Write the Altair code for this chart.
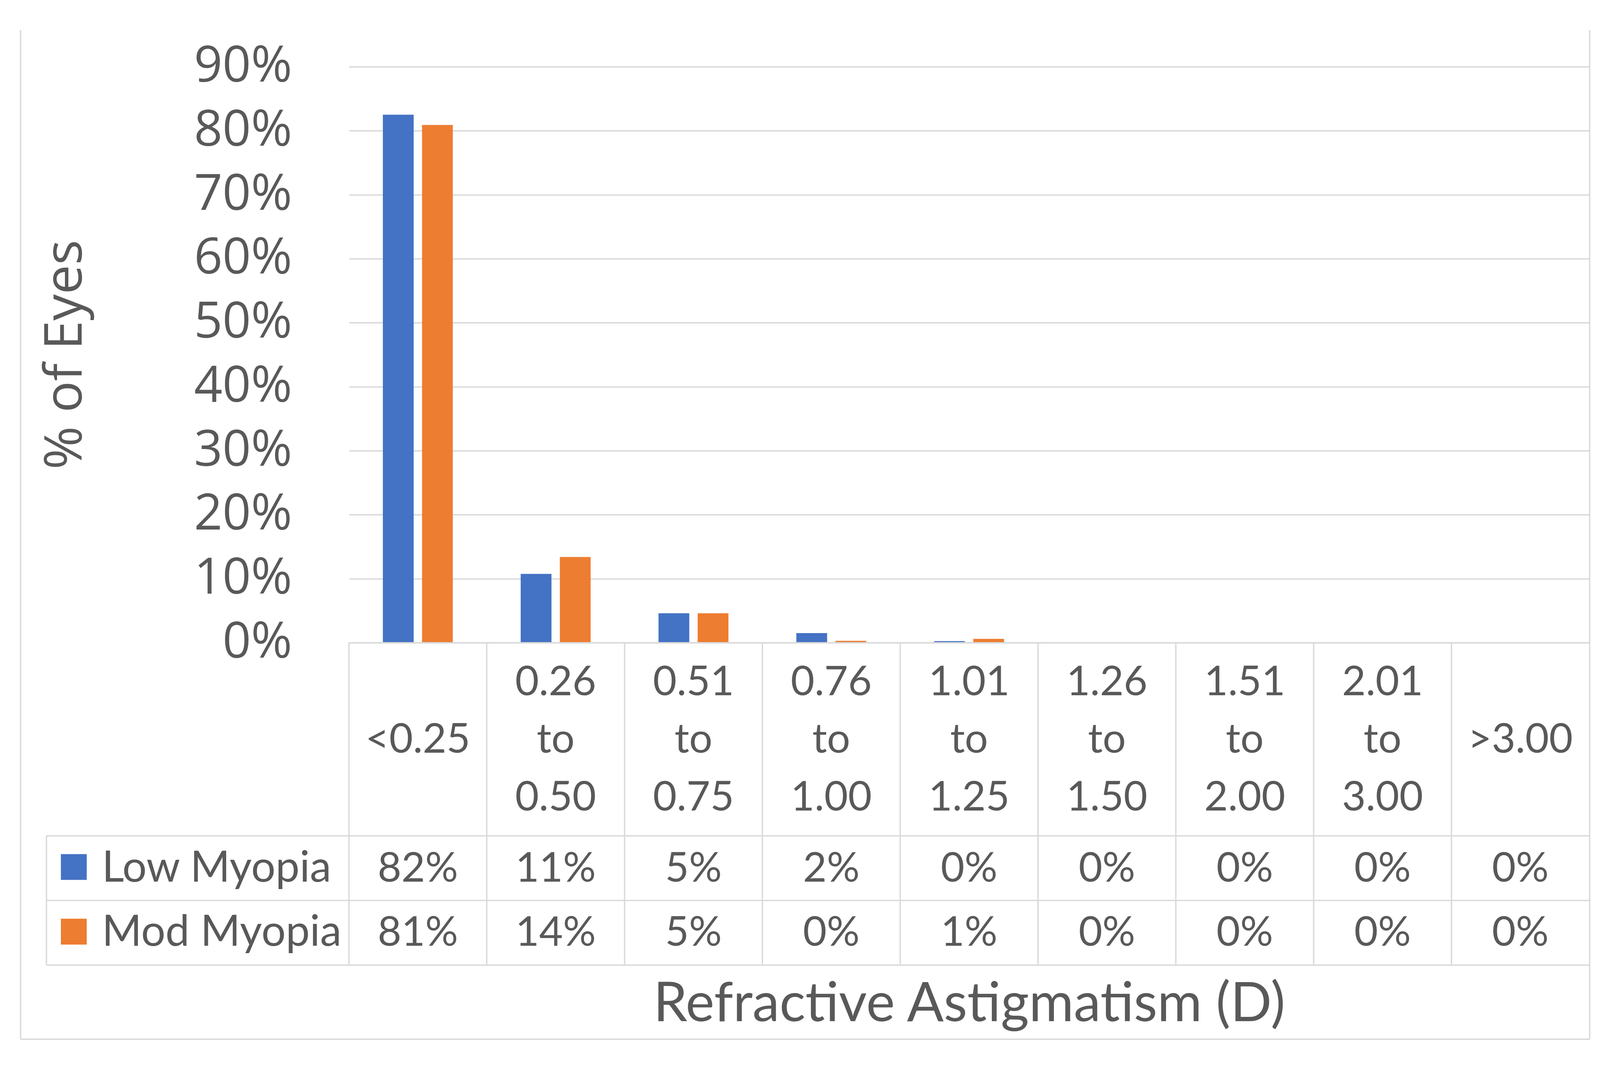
import altair as alt
import pandas as pd

# ---------------- data ----------------
categories = ["<0.25", "0.26 to 0.50", "0.51 to 0.75", "0.76 to 1.00", "1.01 to 1.25",
              "1.26 to 1.50", "1.51 to 2.00", "2.01 to 3.00", ">3.00"]
series_names = ["Low Myopia", "Mod Myopia"]
low_values = [82.5, 10.75, 4.6, 1.5, 0.25, 0, 0, 0, 0]
mod_values = [80.9, 13.4, 4.6, 0.3, 0.6, 0, 0, 0, 0]
low_labels = ["82%", "11%", "5%", "2%", "0%", "0%", "0%", "0%", "0%"]
mod_labels = ["81%", "14%", "5%", "0%", "1%", "0%", "0%", "0%", "0%"]
y_ticks = [0.0, 0.1, 0.2, 0.3, 0.4, 0.5, 0.6, 0.7, 0.8, 0.9]
colors = ["#4472C4", "#ED7D31"]

rows = []
for s, vals, labs in [(series_names[0], low_values, low_labels),
                      (series_names[1], mod_values, mod_labels)]:
    for c, v, l in zip(categories, vals, labs):
        rows.append({"category": c, "series": s, "value": v / 100.0, "label": l})
df = pd.DataFrame(rows)
cat_df = pd.DataFrame({"category": categories})
leg_df = pd.DataFrame({"series": series_names})
one = pd.DataFrame({"k": [0]})

# ---------------- style ----------------
W, H = 3264, 1515
GRID = "#d9d9d9"
TXT = "#595959"
LW = 3.5
TABLE_FONT = "Lato"
AXIS_FONT = "Open Sans"
TFS = 108

x_scale = alt.Scale(paddingInner=0, paddingOuter=0)
x_axis = alt.Axis(labels=False, ticks=False, domain=False, grid=False,
                  title="Refractive Astigmatism (D)", titleFont=TABLE_FONT,
                  titleFontSize=143, titleFontWeight="normal", titleColor=TXT,
                  titleY=995, titleBaseline="alphabetic")


def xenc(**kw):
    return alt.X("category:N", sort=categories, scale=x_scale, axis=x_axis, **kw)


color_scale = alt.Scale(domain=series_names, range=colors)

bars = alt.Chart(df).mark_bar().encode(
    x=xenc(),
    xOffset=alt.XOffset("series:N", sort=series_names,
                        scale=alt.Scale(paddingInner=0.2136, paddingOuter=0.867)),
    y=alt.Y("value:Q", scale=alt.Scale(domain=[0, 0.9], nice=False),
            axis=alt.Axis(format="%", values=y_ticks, title="% of Eyes",
                          labelFont=AXIS_FONT, labelFontSize=131, labelColor=TXT,
                          labelPadding=150, labelLimit=800, ticks=False, domain=False,
                          grid=True, gridColor=GRID, gridWidth=LW,
                          titleFont=AXIS_FONT, titleFontSize=138, titleColor=TXT,
                          titleFontWeight="normal", titleAngle=270,
                          titleX=-704, titleY=757, titleAlign="center",
                          titleBaseline="alphabetic")),
    color=alt.Color("series:N", scale=color_scale, legend=None),
)


def hrule(x1, x2, y):
    return alt.Chart(one).mark_rule(color=GRID, strokeWidth=LW).encode(
        x=alt.value(x1), x2=alt.value(x2), y=alt.value(y))


def vrule(x, y1, y2):
    return alt.Chart(one).mark_rule(color=GRID, strokeWidth=LW).encode(
        x=alt.value(x), y=alt.value(y1), y2=alt.value(y2))


# table column edges (from the band scale)
vlines = alt.Chart(cat_df).mark_rule(color=GRID, strokeWidth=LW).encode(
    x=xenc(bandPosition=0), y=alt.value(H), y2=alt.value(2363))

table_lines = [
    hrule(0, W, H),
    hrule(-796, W, 2023),
    hrule(-796, W, 2193),
    hrule(-796, W, 2363),
    vrule(-796, 2023, 2363),
    # chart-area border
    vrule(-864, -96, 2558),
    vrule(W + 1, -96, 2558),
    hrule(-864, W + 1, 2558),
]

cat_multi = alt.Chart(cat_df).transform_filter(
    "indexof(datum.category, ' ') >= 0").mark_text(
    font=TABLE_FONT, fontSize=TFS, color=TXT, lineBreak=" ", lineHeight=151.5,
    baseline="alphabetic").encode(x=xenc(), y=alt.value(1653), text="category:N")

cat_single = alt.Chart(cat_df).transform_filter(
    "indexof(datum.category, ' ') < 0").mark_text(
    font=TABLE_FONT, fontSize=TFS, color=TXT, baseline="alphabetic").encode(
    x=xenc(), y=alt.value(1804), text="category:N")

row_y = {series_names[0]: 2144, series_names[1]: 2312}
sq_y = {series_names[0]: 2105, series_names[1]: 2275}

row_layers = []
for s in series_names:
    row_layers.append(
        alt.Chart(df).transform_filter(alt.datum.series == s).mark_text(
            font=TABLE_FONT, fontSize=TFS, color=TXT, baseline="alphabetic").encode(
            x=xenc(), y=alt.value(row_y[s]), text="label:N"))
    row_layers.append(
        alt.Chart(leg_df).transform_filter(alt.datum.series == s).mark_square(
            size=4624, opacity=1, strokeWidth=0).encode(
            x=alt.value(-724), y=alt.value(sq_y[s]),
            color=alt.Color("series:N", scale=color_scale, legend=None)))
    row_layers.append(
        alt.Chart(leg_df).transform_filter(alt.datum.series == s).mark_text(
            font=TABLE_FONT, fontSize=113, color=TXT, align="left",
            baseline="alphabetic").encode(
            x=alt.value(-650), y=alt.value(row_y[s]), text="series:N"))

chart = alt.layer(bars, vlines, *table_lines, cat_multi, cat_single, *row_layers).properties(
    width=W, height=H,
    autosize=alt.AutoSizeParams(type="none"),
    padding={"left": 910, "top": 129, "right": 20, "bottom": 1098},
    background="white",
).configure_view(stroke=None)

chart.save("out.html", embed_options={"renderer": "svg", "actions": False})
